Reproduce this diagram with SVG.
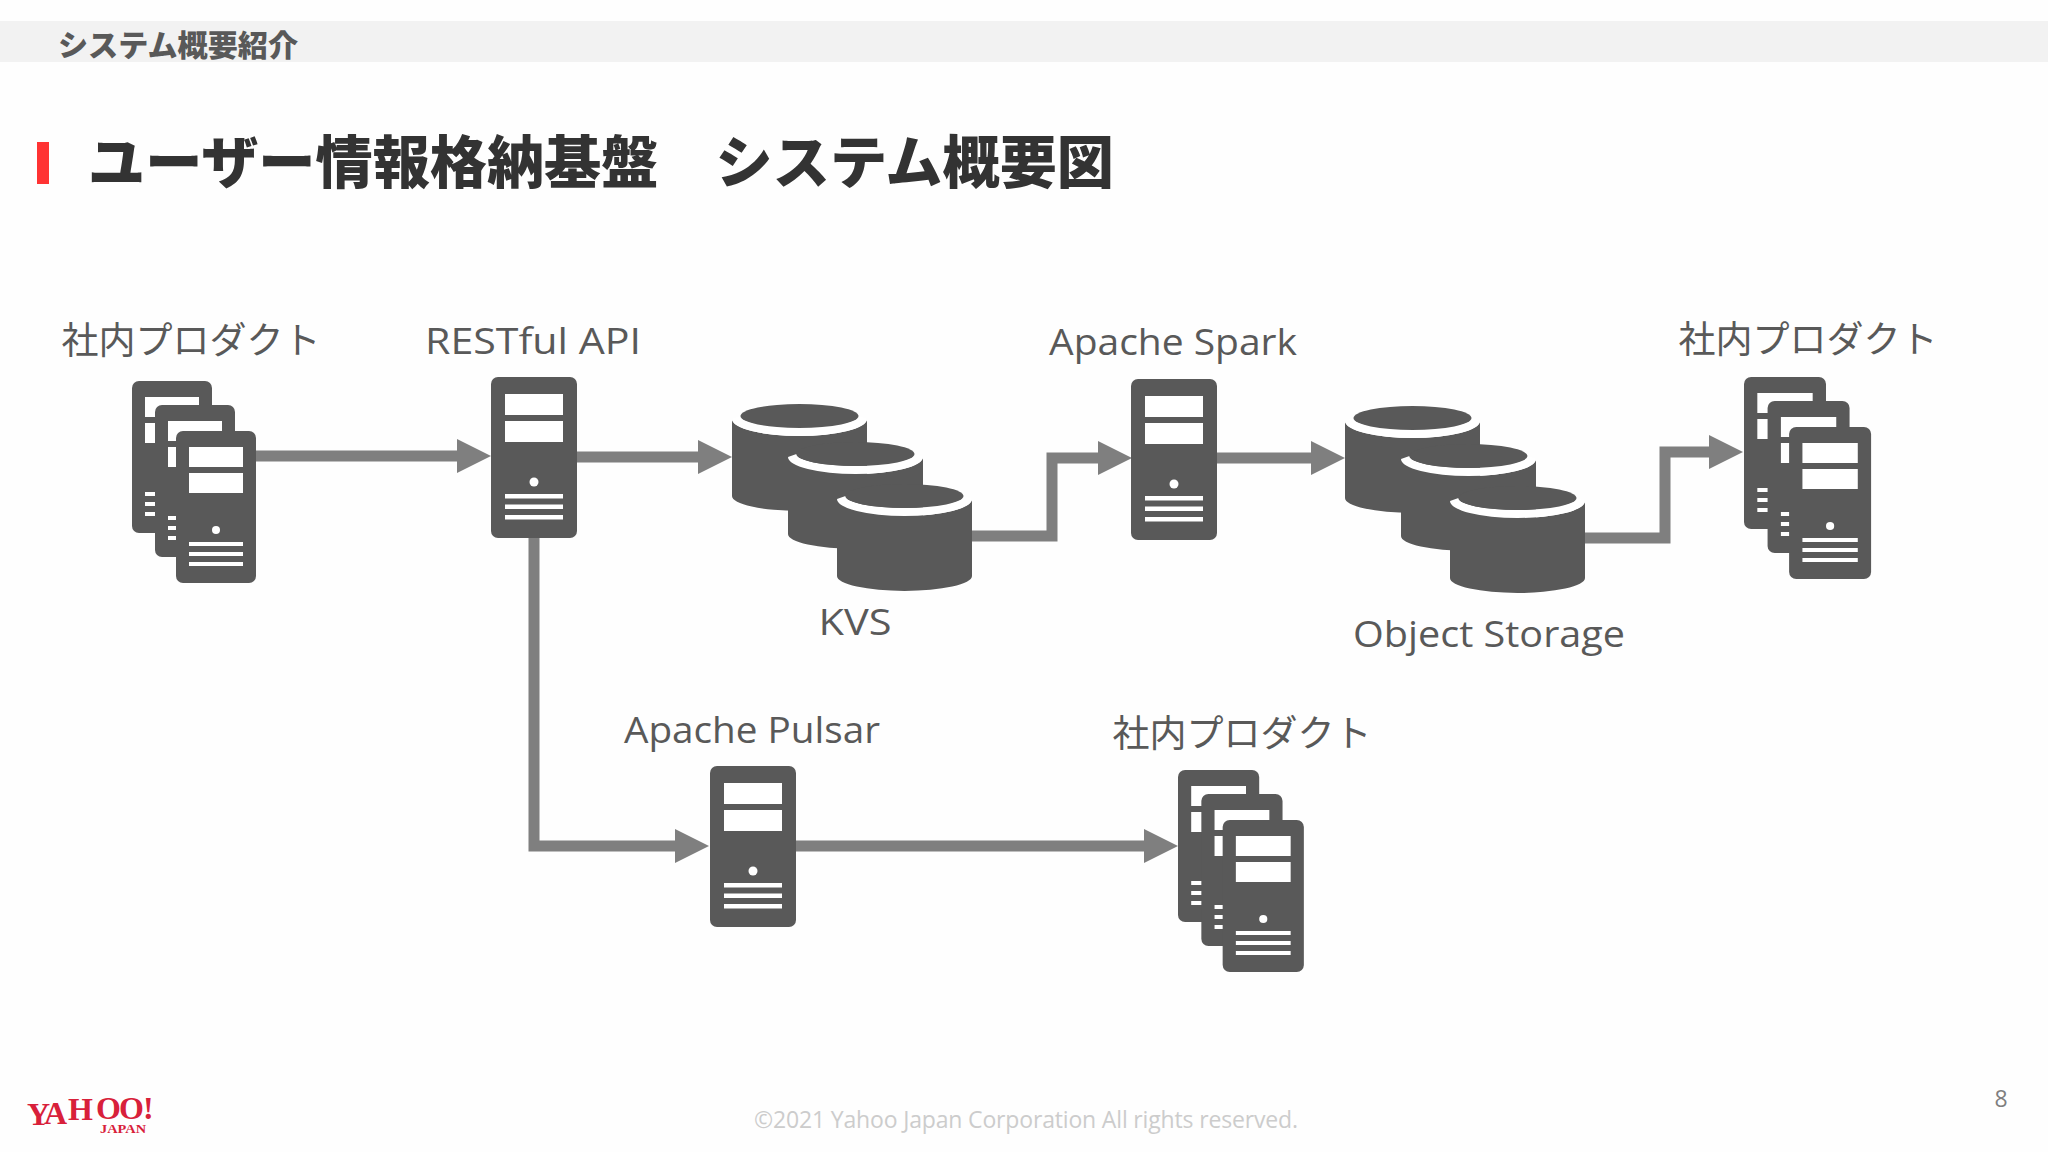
<svg xmlns="http://www.w3.org/2000/svg" width="2048" height="1152" viewBox="0 0 2048 1152">
<style>
.d{fill:#595959}.w{fill:#fff}
.lb{font-family:"Noto Sans CJK JP","Noto Sans",sans-serif;font-size:37px;fill:#595959;text-anchor:middle;font-weight:400}
.en{font-family:"Open Sans","Noto Sans",sans-serif;font-size:37px;fill:#595959;text-anchor:middle}
.c{fill:none;stroke:#7f7f7f;stroke-width:11}
</style>
<defs>
<marker id="ah" markerUnits="userSpaceOnUse" markerWidth="36" markerHeight="36" refX="2" refY="17" orient="auto" overflow="visible"><polygon points="0,0 34,17 0,34" fill="#7f7f7f"/></marker>
<g id="srv">
<rect class="d" width="86" height="161" rx="7"/>
<rect class="w" x="14" y="17" width="58" height="21"/><rect class="w" x="14" y="44" width="58" height="21"/>
<circle class="w" cx="43" cy="105" r="4.5"/>
<rect class="w" x="14" y="117" width="58" height="4.5"/><rect class="w" x="14" y="127.500" width="58" height="4.5"/><rect class="w" x="14" y="138" width="58" height="4.5"/>
</g>
<g id="sv">
<rect class="d" width="80" height="152" rx="7"/>
<rect class="w" x="13" y="16" width="54" height="20"/><rect class="w" x="13" y="42" width="54" height="20"/>
<circle class="w" cx="40" cy="99" r="4"/>
<rect class="w" x="13" y="111" width="54" height="4"/><rect class="w" x="13" y="121" width="54" height="4"/><rect class="w" x="13" y="131" width="54" height="4"/>
</g>
<g id="stack"><use href="#sv"/><use href="#sv" x="23" y="24"/><use href="#sv" x="44" y="50"/></g>
<g id="cyl">
<path class="d" d="M0 15V92A67.500 15 0 0 0 135 92V15A67.500 17 0 0 1 0 15Z"/>
<path class="w" d="M0 15A67.500 17 0 0 0 135 15L126.500 12A59 12 0 0 1 8.500 12Z"/>
<ellipse class="d" cx="67.500" cy="12" rx="59" ry="12"/>
</g>
<g id="cyls"><use href="#cyl"/><use href="#cyl" x="56" y="38"/><use href="#cyl" x="105" y="80"/></g>
</defs>
<rect width="2048" height="1152" fill="#fefefe"/>
<rect y="21" width="2048" height="41" fill="#f2f2f2"/>
<text x="58" y="56" font-family="Noto Sans CJK JP,sans-serif" font-size="30" font-weight="900" fill="#595959" textLength="240" lengthAdjust="spacingAndGlyphs">システム概要紹介</text>
<rect x="37" y="142" width="12" height="42" fill="#ff3333"/>
<text x="88" y="183" font-family="Noto Sans CJK JP,sans-serif" font-size="57" font-weight="900" fill="#333333" textLength="1026" lengthAdjust="spacingAndGlyphs">ユーザー情報格納基盤　システム概要図</text>
<g id="connectors">
<path class="c" d="M256 456H459" marker-end="url(#ah)"/>
<path class="c" d="M577 457H700" marker-end="url(#ah)"/>
<path class="c" d="M972 536H1052V458H1100" marker-end="url(#ah)"/>
<path class="c" d="M1216 458H1313" marker-end="url(#ah)"/>
<path class="c" d="M1585 538H1665V452H1711" marker-end="url(#ah)"/>
<path class="c" d="M534 537V846H677" marker-end="url(#ah)"/>
<path class="c" d="M795 846H1146" marker-end="url(#ah)"/>
</g>
<g id="node-product1"><use href="#stack" x="132" y="381"/><text class="lb" x="191" y="354">社内プロダクト</text></g>
<g id="node-restful"><use href="#srv" x="491" y="377"/><text class="en" x="533" y="354" textLength="216" lengthAdjust="spacingAndGlyphs">RESTful API</text></g>
<g id="node-kvs"><use href="#cyls" x="732" y="404"/><text class="en" x="855" y="635" textLength="73" lengthAdjust="spacingAndGlyphs">KVS</text></g>
<g id="node-spark"><use href="#srv" x="1131" y="379"/><text class="en" x="1173" y="355" textLength="248" lengthAdjust="spacingAndGlyphs">Apache Spark</text></g>
<g id="node-storage"><use href="#cyls" x="1345" y="406"/><text class="en" x="1489" y="647" textLength="272" lengthAdjust="spacingAndGlyphs">Object Storage</text></g>
<g id="node-product2"><use href="#stack" transform="translate(1744 377) scale(1.025 1)"/><text class="lb" x="1808" y="353">社内プロダクト</text></g>
<g id="node-pulsar"><use href="#srv" x="710" y="766"/><text class="en" x="752" y="743" textLength="256" lengthAdjust="spacingAndGlyphs">Apache Pulsar</text></g>
<g id="node-product3"><use href="#stack" transform="translate(1178 770) scale(1.015 1)"/><text class="lb" x="1242" y="747">社内プロダクト</text></g>
<g id="logo" font-family="Liberation Serif,serif" font-weight="700" fill="#d8203a">
<text font-size="32" x="27 44 68 96 119 143" y="1125 1124 1120 1119 1119 1119">YAHOO!</text>
<text x="100" y="1133" font-size="12" textLength="46" lengthAdjust="spacingAndGlyphs">JAPAN</text>
</g>
<text x="1026" y="1128" font-family="Open Sans,sans-serif" font-size="23" fill="#cccccc" text-anchor="middle" textLength="544">©2021 Yahoo Japan Corporation All rights reserved.</text>
<text x="2001" y="1107" font-family="Open Sans,sans-serif" font-size="23" fill="#7f7f7f" text-anchor="middle">8</text>
</svg>
